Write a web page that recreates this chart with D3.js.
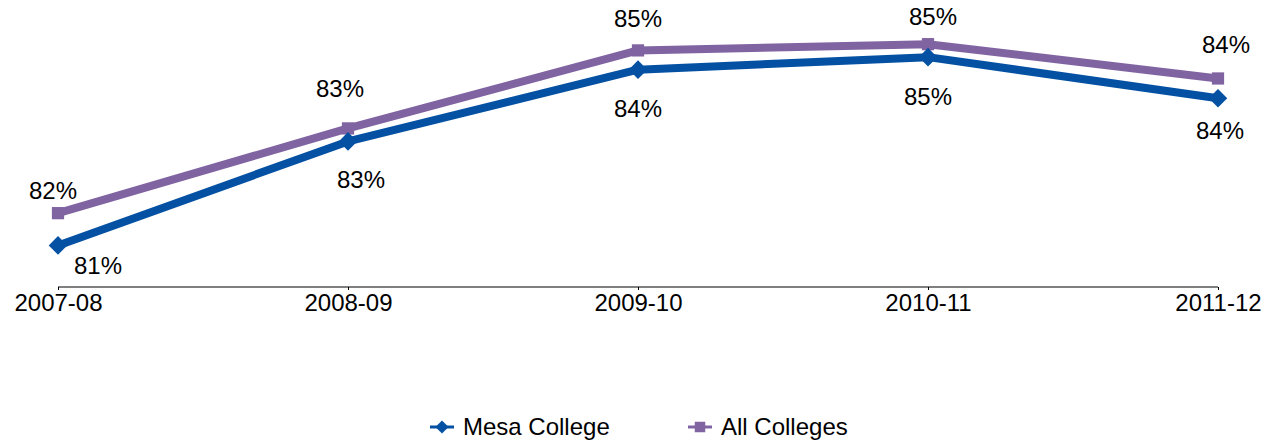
<!DOCTYPE html>
<html><head><meta charset="utf-8">
<script src="https://cdn.jsdelivr.net/npm/d3@7/dist/d3.min.js"></script>
<style>body{margin:0;background:#fff}svg{display:block}text{font-family:"Liberation Sans",Arial,sans-serif;fill:#000}</style>
</head><body><svg id="c" width="1266" height="443"></svg>
<script>
const categories = ["2007-08","2008-09","2009-10","2010-11","2011-12"];
const mesaValues = [0.810, 0.830, 0.8438, 0.8462, 0.8383];
const allValues  = [0.8162, 0.8325, 0.8475, 0.8487, 0.8421];
const seriesNames = ["Mesa College","All Colleges"];
// label placement offsets (layout only)
const mesaLabelDx = [40, 13, 0, 0, 2], mesaLabelDy = [20, 38, 39, 39, 32];
const allLabelDx = [-5, -8, 0, 5, 8], allLabelDy = [-23, -40, -32, -28, -34];

const FS = 24;
const svg = d3.select("#c");
const x = d3.scalePoint().domain(categories).range([58, 1218]);
const y = d3.scaleLinear().domain([0.802, 0.857]).range([287, 1]);
const fmt = d3.format(".0%");
const colors = {mesa:"#0451A3", all:"#8064A2"};

// axis
const ax = svg.append("g").attr("transform","translate(0,287)")
  .call(d3.axisBottom(x).tickSize(3).tickPadding(4));
ax.select(".domain").attr("stroke","#000").attr("stroke-width",1.2).attr("d","M58,0H1218");
ax.selectAll(".tick line").attr("stroke","#000");
ax.selectAll(".tick text").attr("font-size",FS).attr("font-family","Liberation Sans, Arial, sans-serif").attr("fill","#000").attr("dy","0.72em");

const line = d3.line().x((d,i)=>x(categories[i])).y(d=>y(d));
svg.append("path").datum(allValues).attr("d",line).attr("fill","none").attr("stroke",colors.all).attr("stroke-width",8).attr("stroke-linejoin","round");
svg.append("path").datum(mesaValues).attr("d",line).attr("fill","none").attr("stroke",colors.mesa).attr("stroke-width",8).attr("stroke-linejoin","round");

const sq = d3.symbol().type(d3.symbolSquare).size(150);
const di = d3.symbol().type(d3.symbolDiamond2).size(220);
svg.selectAll(".ms").data(allValues).join("path").attr("d",sq).attr("fill",colors.all)
  .attr("transform",(d,i)=>`translate(${x(categories[i])},${y(d)})`);
svg.selectAll(".md").data(mesaValues).join("path").attr("d",di).attr("fill",colors.mesa)
  .attr("transform",(d,i)=>`translate(${x(categories[i])},${y(d)})`);

svg.selectAll(".la").data(allValues).join("text").attr("font-size",FS).attr("text-anchor","middle").attr("dy","0.35em")
  .attr("x",(d,i)=>x(categories[i])+allLabelDx[i]).attr("y",(d,i)=>y(d)+allLabelDy[i]).text(fmt);
svg.selectAll(".lm").data(mesaValues).join("text").attr("font-size",FS).attr("text-anchor","middle").attr("dy","0.35em")
  .attr("x",(d,i)=>x(categories[i])+mesaLabelDx[i]).attr("y",(d,i)=>y(d)+mesaLabelDy[i]).text(fmt);

// legend
const leg = [{name:seriesNames[0],c:colors.mesa,t:d3.symbolDiamond2,x:430},{name:seriesNames[1],c:colors.all,t:d3.symbolSquare,x:688}];
const lg = svg.selectAll(".lg").data(leg).join("g").attr("transform",d=>`translate(${d.x},427)`);
lg.append("line").attr("x1",0).attr("x2",24).attr("stroke",d=>d.c).attr("stroke-width",3);
lg.append("path").attr("d",d=>d3.symbol().type(d.t).size(110)()).attr("fill",d=>d.c).attr("transform","translate(12,0)");
lg.append("text").attr("x",33).attr("dy","0.35em").attr("font-size",FS).text(d=>d.name);
</script></body></html>
